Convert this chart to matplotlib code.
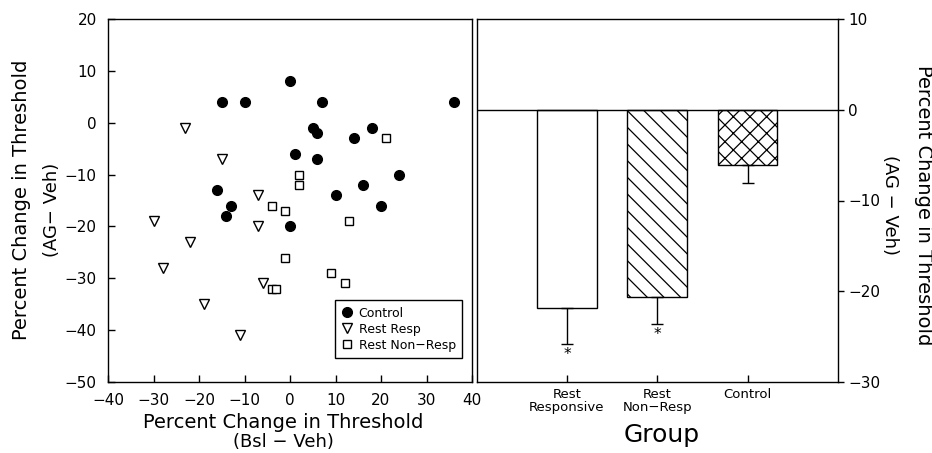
import matplotlib
matplotlib.use("Agg")
import matplotlib.pyplot as plt
import numpy as np

plt.rcParams['font.family'] = ['DejaVu Sans']
plt.rcParams['hatch.linewidth'] = 0.9

# ---- scatter data ----
control_x = [-15, -10, 0, 7, 36, 5, 6, 18, 14, 1, 6, 24, 16, 10, 20, -16, -13, -14, 0]
control_y = [4, 4, 8, 4, 4, -1, -2, -1, -3, -6, -7, -10, -12, -14, -16, -13, -16, -18, -20]
resp_x = [-23, -15, -7, -7, -30, -22, -28, -6, -19, -11]
resp_y = [-1, -7, -14, -20, -19, -23, -28, -31, -35, -41]
nonresp_x = [21, 2, 2, -4, -1, 13, -1, 9, 12, -4, -3]
nonresp_y = [-3, -10, -12, -16, -17, -19, -26, -29, -31, -32, -32]

# ---- bar data ----
groups = ["Rest\nResponsive", "Rest\nNon\u2212Resp", "Control"]
means = [-21.9, -20.6, -6.1]
errs = [3.9, 3.0, 2.0]
signif = [True, True, False]
hatches = ['', '\\\\', 'xx']

fig = plt.figure(figsize=(9.32, 4.53), dpi=100)
W, H = 932, 453

def ax_rect(x0, y0, x1, y1):
    return [x0 / W, 1 - y1 / H, (x1 - x0) / W, (y1 - y0) / H]

ax1 = fig.add_axes(ax_rect(108, 19, 472, 382))
ax2 = fig.add_axes(ax_rect(476.5, 19, 838, 382))

# scatter
ax1.plot(control_x, control_y, 'o', color='black', markersize=7, label='Control', linestyle='none')
ax1.plot(resp_x, resp_y, 'v', markerfacecolor='white', markeredgecolor='black', markersize=7,
         markeredgewidth=1.0, label='Rest Resp', linestyle='none')
ax1.plot(nonresp_x, nonresp_y, 's', markerfacecolor='white', markeredgecolor='black', markersize=5.5,
         markeredgewidth=1.0, label='Rest Non\u2212Resp', linestyle='none')
ax1.set_xlim(-40, 40)
ax1.set_ylim(-50, 20)
ax1.set_xticks(np.arange(-40, 41, 10))
ax1.set_yticks(np.arange(-50, 21, 10))
ax1.tick_params(direction='in', length=5, width=1, labelsize=11, pad=8)
for s in ax1.spines.values():
    s.set_linewidth(1)
leg = ax1.legend(loc='lower right', bbox_to_anchor=(0.9725, 0.066), borderaxespad=0,
                 fancybox=False, edgecolor='black', fontsize=9, handletextpad=0.4,
                 labelspacing=0.25, borderpad=0.5, handlelength=1.0, framealpha=1)
leg.get_frame().set_linewidth(1)

# bars
pos = np.arange(len(groups))
for i in range(len(groups)):
    ax2.bar(pos[i], means[i], width=0.66, color='white', edgecolor='black',
            linewidth=1, hatch=hatches[i], zorder=2)
    ax2.errorbar(pos[i], means[i], yerr=[[errs[i]], [0]], fmt='none', ecolor='black',
                 elinewidth=1, capsize=4, capthick=1, zorder=3)
    if signif[i]:
        ax2.annotate('*', xy=(pos[i], means[i] - errs[i]), xytext=(0, -2),
                     textcoords='offset points', ha='center', va='top', fontsize=11)
ax2.axhline(0, color='black', linewidth=1, zorder=4)
ax2.set_xlim(-1, 3)
ax2.set_ylim(-30, 10)
ax2.set_xticks(pos)
ax2.set_xticklabels(groups, fontsize=9.5, linespacing=1.0)
ax2.set_yticks(np.arange(-30, 11, 10))
ax2.yaxis.tick_right()
ax2.tick_params(axis='y', direction='out', length=4.5, width=1, labelsize=11, pad=3)
ax2.tick_params(axis='x', direction='in', length=5, width=1, pad=4)
for s in ax2.spines.values():
    s.set_linewidth(1)

# labels
fig.text(22 / W, 1 - 200 / H, "Percent Change in Threshold", rotation=90,
         ha='center', va='center', fontsize=14)
fig.text(52 / W, 1 - 210 / H, "(AG\u2212 Veh)", rotation=90,
         ha='center', va='center', fontsize=13)
fig.text(283 / W, 1 - 423 / H, "Percent Change in Threshold",
         ha='center', va='center', fontsize=14)
fig.text(283 / W, 1 - 442 / H, "(Bsl \u2212 Veh)",
         ha='center', va='center', fontsize=13)
fig.text(923 / W, 1 - 205 / H, "Percent Change in Threshold", rotation=270,
         ha='center', va='center', fontsize=14)
fig.text(890 / W, 1 - 205 / H, "(AG \u2212 Veh)", rotation=270,
         ha='center', va='center', fontsize=13)
fig.text(662 / W, 1 - 435 / H, "Group", ha='center', va='center', fontsize=18)

fig.savefig("out.png", dpi=100)
